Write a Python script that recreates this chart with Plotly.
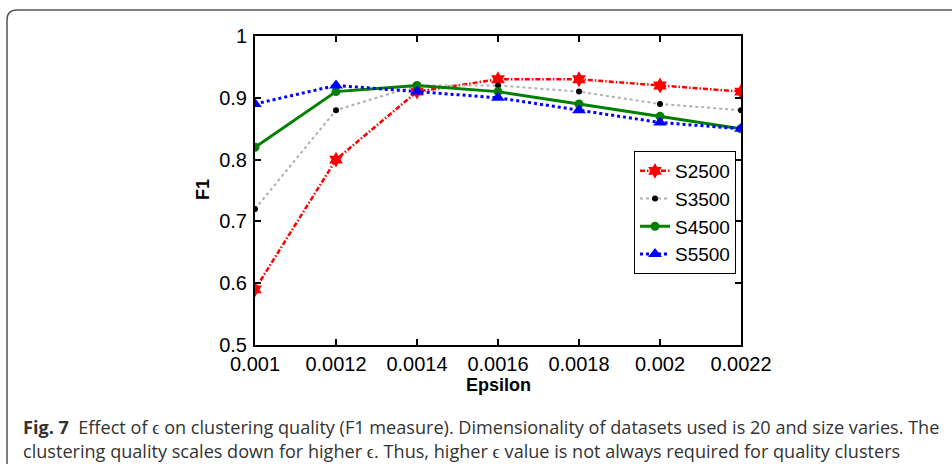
import plotly.graph_objects as go

epsilon = [0.001, 0.0012, 0.0014, 0.0016, 0.0018, 0.002, 0.0022]
s2500 = [0.59, 0.80, 0.91, 0.93, 0.93, 0.92, 0.91]
s3500 = [0.72, 0.88, 0.92, 0.92, 0.91, 0.89, 0.88]
s4500 = [0.82, 0.91, 0.92, 0.91, 0.89, 0.87, 0.85]
s5500 = [0.89, 0.92, 0.91, 0.90, 0.88, 0.86, 0.85]
x_ticks = [0.001, 0.0012, 0.0014, 0.0016, 0.0018, 0.002, 0.0022]
x_tick_labels = ["0.001", "0.0012", "0.0014", "0.0016", "0.0018", "0.002", "0.0022"]
y_ticks = [0.5, 0.6, 0.7, 0.8, 0.9, 1.0]
y_tick_labels = ["0.5", "0.6", "0.7", "0.8", "0.9", "1"]

W, H = 952, 464
L, R, T, B = 255, 741, 36, 345
ARIAL = "Liberation Sans"

fig = go.Figure()
fig.add_trace(go.Scatter(x=epsilon, y=s2500, name="S2500", mode="lines+markers",
                         line=dict(color="red", width=2.5, dash="5px,2px,1.5px,2px"),
                         marker=dict(symbol="hexagram", size=12, color="red")))
fig.add_trace(go.Scatter(x=epsilon, y=s3500, name="S3500", mode="lines+markers",
                         line=dict(color="#b0b0b0", width=2, dash="dot"),
                         marker=dict(symbol="circle", size=6, color="black")))
fig.add_trace(go.Scatter(x=epsilon, y=s4500, name="S4500", mode="lines+markers",
                         line=dict(color="#008000", width=3),
                         marker=dict(symbol="circle", size=9, color="#008000")))
fig.add_trace(go.Scatter(x=epsilon, y=s5500, name="S5500", mode="lines+markers",
                         line=dict(color="blue", width=3, dash="dot"),
                         marker=dict(symbol="triangle-up", size=12, color="blue")))

def px(x):
    return (x - L) / (R - L)

def py(y):
    return (B - y) / (B - T)

shapes = [dict(type="path", xref="paper", yref="paper",
               path=f"M {px(7)} {py(470)} L {px(7)} {py(20)} Q {px(7)} {py(10)} {px(17)} {py(10)} L {px(960)} {py(10)}",
               line=dict(color="#555", width=1.5))]

caption_font = dict(family="Open Sans", size=18.1, color="#333")
annotations = [
    dict(text="<b>Epsilon</b>", xref="paper", yref="paper", x=px(498), y=py(385), showarrow=False,
         font=dict(family=ARIAL, size=18, color="black"), xanchor="center", yanchor="middle"),
    dict(text="<b>F1</b>", xref="paper", yref="paper", x=px(203), y=py(190), showarrow=False, textangle=-90,
         font=dict(family=ARIAL, size=18, color="black"), xanchor="center", yanchor="middle"),
    dict(text="<b>Fig. 7</b>  Effect of ϵ on clustering quality (F1 measure). Dimensionality of datasets used is 20 and size varies. The",
         xref="paper", yref="paper", x=px(21), y=py(427), showarrow=False, font=caption_font, xanchor="left", yanchor="middle"),
    dict(text="clustering quality scales down for higher ϵ. Thus, higher ϵ value is not always required for quality clusters",
         xref="paper", yref="paper", x=px(21), y=py(451), showarrow=False, font=caption_font, xanchor="left", yanchor="middle"),
]

axis_common = dict(showline=True, linecolor="black", linewidth=2, mirror="ticks", ticks="inside",
                   ticklen=6, tickwidth=2, tickcolor="black", showgrid=False, zeroline=False,
                   tickfont=dict(family=ARIAL, size=20, color="black"))

fig.update_layout(
    width=W, height=H, margin=dict(l=L, r=W - R, t=T, b=H - B),
    plot_bgcolor="white", paper_bgcolor="white",
    xaxis=dict(range=[0.001, 0.0022], tickvals=x_ticks, ticktext=x_tick_labels, ticklabelstandoff=0, **axis_common),
    yaxis=dict(range=[0.5, 1.0], tickvals=y_ticks, ticktext=y_tick_labels, ticklabelstandoff=2, **axis_common),
    legend=dict(x=px(736), y=py(151), xanchor="right", yanchor="top", bgcolor="white",
                bordercolor="black", borderwidth=1, font=dict(family=ARIAL, size=19, color="black"),
                tracegroupgap=0, itemwidth=30),
    showlegend=True, shapes=shapes, annotations=annotations,
)

fig.write_html("out.html")
